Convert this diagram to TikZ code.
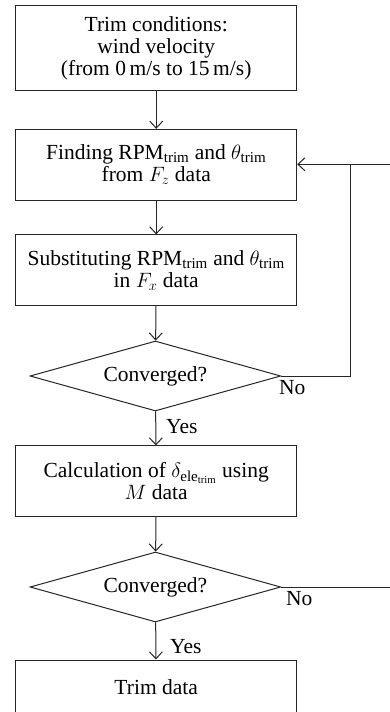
\documentclass[tikz,border=0pt]{standalone}
\usepackage{amsmath}
\usepackage{fontspec}
\setmainfont{Liberation Serif}
\usetikzlibrary{shapes.geometric,arrows.meta}
\begin{document}
\begin{tikzpicture}[x=1pt,y=-1pt,
  ln/.style={line width=1pt, draw=black!85},
  arr/.style={ln, -{Straight Barb[length=7pt,width=13pt,line width=1pt]}},
  txt/.style={font=\fontsize{21.5}{22}\selectfont},
  box/.style={ln, rectangle, minimum width=281pt, inner sep=0pt, align=center, txt},
  dec/.style={ln, diamond, aspect=3.58, minimum width=250.7pt, minimum height=70pt, inner sep=0pt, txt},
  lab/.style={inner sep=0pt, txt}
]
\useasboundingbox (0,0) rectangle (390,712);
\clip (0,0) rectangle (390,712);

\node[box, minimum height=84.7pt] (a) at (156.2,48.3)
  {Trim conditions:\\ wind velocity\\ (from 0\,m/s to 15\,m/s)};
\node[box, minimum height=70.7pt] (b) at (156.2,164.7)
  {Finding $\text{RPM}_{\text{trim}}$ and $\theta_{\text{trim}}$\\ from $F_z$ data};
\node[box, minimum height=70.7pt] (c) at (156.2,270.3)
  {Substituting $\text{RPM}_{\text{trim}}$ and $\theta_{\text{trim}}$\\ in $F_x$ data};
\node[dec] (d1) at (155.4,376) {Converged?};
\node[box, minimum height=70.7pt] (e) at (156.2,481.3)
  {Calculation of $\delta_{\text{ele}_{\text{trim}}}$ using\\ $M$ data};
\node[dec] (d2) at (155.4,587) {Converged?};
\node[box, minimum height=54pt] (f) at (156.2,687) {Trim data};

\draw[arr] (a) -- (b);
\draw[arr] (b) -- (c);
\draw[arr] (c) -- (d1);
\draw[arr] (d1) -- (e);
\draw[arr] (e) -- (d2);
\draw[arr] (d2) -- (f);

\coordinate (r1) at (350,164.3);
\coordinate (r1e) at (392,164.3);
\draw[arr] (r1e) -- (b.east |- r1e);
\draw[ln] (d1.east) -| (r1);
\coordinate (r2) at (392,587);
\draw[ln] (d2.east) -- (r2);

\node[lab, anchor=north west] (n1) at (279,380) {No};
\node[lab, anchor=north west] (n2) at (286,591) {No};
\node[lab, anchor=west] (y1) at (166,427) {Yes};
\node[lab, anchor=west] (y2) at (170,647) {Yes};
\end{tikzpicture}
\end{document}
